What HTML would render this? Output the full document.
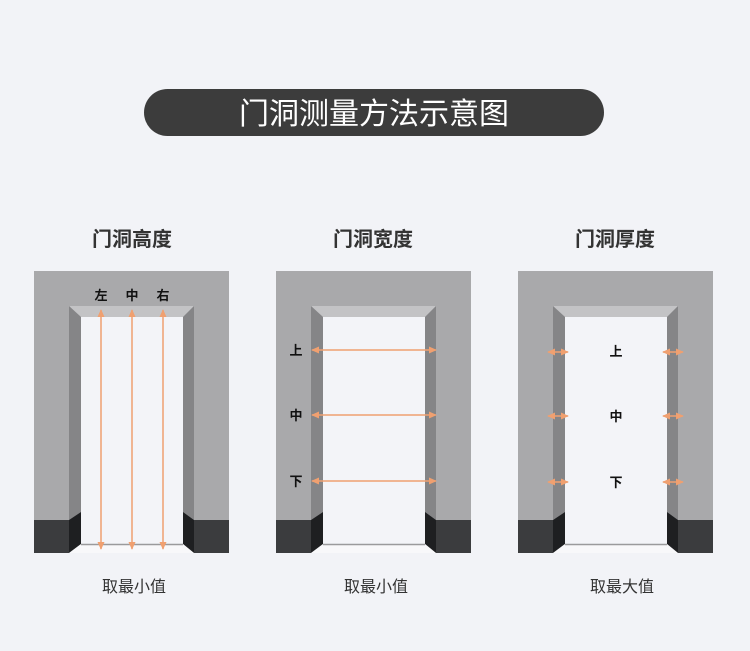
<!DOCTYPE html>
<html><head><meta charset="utf-8"><style>
html,body{margin:0;padding:0;background:#f2f3f7;}
body{width:750px;height:651px;overflow:hidden;position:relative;font-family:"Liberation Sans","Noto Sans CJK SC",sans-serif;}
</style></head><body>
<svg width="750" height="651" viewBox="0 0 750 651" xmlns="http://www.w3.org/2000/svg" style="position:absolute;left:0;top:0">
<defs>
<g id="door">
  <rect x="0" y="0" width="195" height="282" fill="#a9a9ab"/>
  <rect x="0" y="249" width="35" height="33" fill="#3b3c3e"/>
  <rect x="160" y="249" width="35" height="33" fill="#3b3c3e"/>
  <polygon points="35,35 160,35 149,46 47,46" fill="#c3c3c5"/>
  <polygon points="35,35 47,46 47,241 35,249" fill="#858587"/>
  <polygon points="35,249 47,241 47,273 35,282" fill="#1e1f21"/>
  <polygon points="160,35 149,46 149,241 160,249" fill="#858587"/>
  <polygon points="160,249 149,241 149,273 160,282" fill="#1e1f21"/>
  <rect x="47" y="46" width="102" height="227" fill="#f3f4f8"/>
  <polygon points="47,273 149,273 160,282 35,282" fill="#f8f8fa"/>
  <line x1="47" y1="273.5" x2="149" y2="273.5" stroke="#9a9a9c" stroke-width="1.5"/>
</g>
<marker id="ah" viewBox="0 0 10 10" refX="8" refY="5" markerWidth="6" markerHeight="6" orient="auto-start-reverse"><path d="M0,1 L9,5 L0,9 z" fill="#f0a070"/></marker>
</defs>
<rect x="144" y="89" width="460" height="47" rx="23.5" fill="#3c3c3c"/>
<text x="374" y="124" text-anchor="middle" font-size="30" fill="#fff" font-family="Liberation Sans,Noto Sans CJK SC,sans-serif">门洞测量方法示意图</text>

<g font-family="Liberation Sans,Noto Sans CJK SC,sans-serif" font-size="20" font-weight="bold" fill="#333" text-anchor="middle">
<text x="132" y="246">门洞高度</text>
<text x="373" y="246">门洞宽度</text>
<text x="615" y="246">门洞厚度</text>
</g>
<g font-family="Liberation Sans,Noto Sans CJK SC,sans-serif" font-size="16" fill="#333" text-anchor="middle">
<text x="134" y="592">取最小值</text>
<text x="376" y="592">取最小值</text>
<text x="622" y="592">取最大值</text>
</g>

<use href="#door" x="34" y="271"/>
<use href="#door" x="276" y="271"/>
<use href="#door" x="518" y="271"/>

<g stroke="#f0a070" stroke-width="1.5" marker-start="url(#ah)" marker-end="url(#ah)">
<line x1="101" y1="310" x2="101" y2="549"/>
<line x1="132" y1="310" x2="132" y2="549"/>
<line x1="163" y1="310" x2="163" y2="549"/>
<line x1="312" y1="350" x2="436" y2="350"/>
<line x1="312" y1="415" x2="436" y2="415"/>
<line x1="312" y1="481" x2="436" y2="481"/>
<line x1="548" y1="352" x2="568" y2="352"/>
<line x1="548" y1="416" x2="568" y2="416"/>
<line x1="548" y1="482" x2="568" y2="482"/>
<line x1="663" y1="352" x2="683" y2="352"/>
<line x1="663" y1="416" x2="683" y2="416"/>
<line x1="663" y1="482" x2="683" y2="482"/>
</g>
<g font-family="Liberation Sans,Noto Sans CJK SC,sans-serif" font-size="13" font-weight="bold" fill="#111" text-anchor="middle">
<text x="101" y="300">左</text>
<text x="132" y="300">中</text>
<text x="163" y="300">右</text>
<text x="296" y="355">上</text>
<text x="296" y="420">中</text>
<text x="296" y="486">下</text>
<text x="616" y="356">上</text>
<text x="616" y="421">中</text>
<text x="616" y="487">下</text>
</g>
</svg>
</body></html>
